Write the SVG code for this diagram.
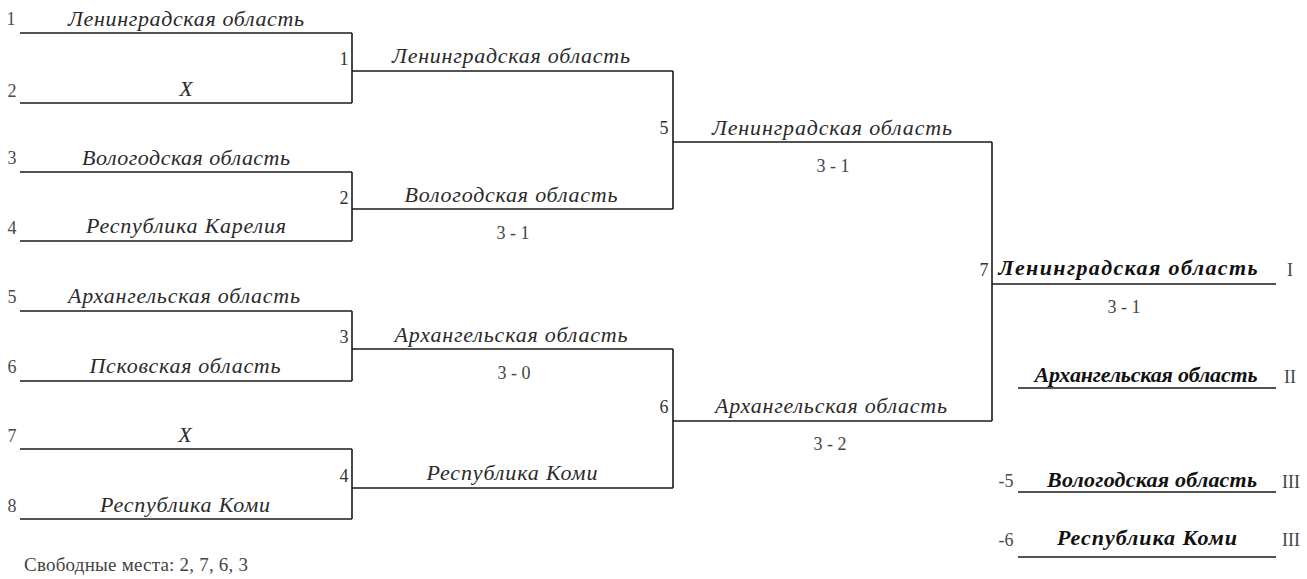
<svg xmlns="http://www.w3.org/2000/svg" width="1307" height="579" viewBox="0 0 1307 579">
<style>
.ln{stroke:#1a1a1a;stroke-width:1.6;fill:none}
.nm{font-family:"Liberation Serif",serif;font-style:italic;font-size:22px;fill:#2a2a2a;text-anchor:middle}
.bd{font-family:"Liberation Serif",serif;font-style:italic;font-weight:bold;font-size:22px;fill:#111;text-anchor:middle}
.sd{font-family:"Liberation Serif",serif;font-size:18px;fill:#4a4a4a;text-anchor:middle}
.mn{font-family:"Liberation Serif",serif;font-size:18px;fill:#333;text-anchor:middle}
.sc{font-family:"Liberation Serif",serif;font-size:18px;fill:#444;text-anchor:middle}
.ft{font-family:"Liberation Serif",serif;font-size:19px;fill:#444}
</style>
<rect width="1307" height="579" fill="#fff"/>
<g id="slot1"><line class="ln" x1="20" y1="33" x2="352" y2="33"/><text class="sd" x="11" y="25">1</text><text class="nm" x="186" y="26" textLength="236">Ленинградская область</text></g>
<g id="slot2"><line class="ln" x1="20" y1="103" x2="352" y2="103"/><text class="sd" x="12" y="97">2</text><text class="nm" x="186" y="96">X</text></g>
<g id="slot3"><line class="ln" x1="20" y1="172" x2="352" y2="172"/><text class="sd" x="12" y="164">3</text><text class="nm" x="186" y="165" textLength="208">Вологодская область</text></g>
<g id="slot4"><line class="ln" x1="20" y1="241" x2="352" y2="241"/><text class="sd" x="12" y="234">4</text><text class="nm" x="186" y="233" textLength="200">Республика Карелия</text></g>
<g id="slot5"><line class="ln" x1="20" y1="311" x2="352" y2="311"/><text class="sd" x="12" y="303">5</text><text class="nm" x="184" y="303" textLength="232">Архангельская область</text></g>
<g id="slot6"><line class="ln" x1="20" y1="381" x2="352" y2="381"/><text class="sd" x="12" y="373">6</text><text class="nm" x="185" y="373" textLength="191">Псковская область</text></g>
<g id="slot7"><line class="ln" x1="20" y1="449" x2="352" y2="449"/><text class="sd" x="12" y="442">7</text><text class="nm" x="185" y="442">X</text></g>
<g id="slot8"><line class="ln" x1="20" y1="519" x2="352" y2="519"/><text class="sd" x="12" y="512">8</text><text class="nm" x="185" y="512" textLength="170">Республика Коми</text></g>

<g id="match1"><line class="ln" x1="352" y1="71" x2="673" y2="71"/><text class="mn" x="344" y="65">1</text><text class="nm" x="511" y="63" textLength="238">Ленинградская область</text></g>
<g id="match2"><line class="ln" x1="352" y1="209" x2="673" y2="209"/><text class="mn" x="344" y="204">2</text><text class="nm" x="511" y="202" textLength="213">Вологодская область</text><text class="sc" x="513" y="239">3 - 1</text></g>
<g id="match3"><line class="ln" x1="352" y1="349" x2="673" y2="349"/><text class="mn" x="344" y="343">3</text><text class="nm" x="511" y="342" textLength="233">Архангельская область</text><text class="sc" x="514" y="379">3 - 0</text></g>
<g id="match4"><line class="ln" x1="352" y1="488" x2="673" y2="488"/><text class="mn" x="344" y="482">4</text><text class="nm" x="512" y="480" textLength="171">Республика Коми</text></g>

<g id="match5"><line class="ln" x1="673" y1="142" x2="992" y2="142"/><text class="mn" x="664" y="134">5</text><text class="nm" x="832" y="135" textLength="240">Ленинградская область</text><text class="sc" x="833" y="172">3 - 1</text></g>
<g id="match6"><line class="ln" x1="673" y1="421" x2="992" y2="421"/><text class="mn" x="664" y="413">6</text><text class="nm" x="831" y="413" textLength="232">Архангельская область</text><text class="sc" x="830" y="450">3 - 2</text></g>

<g id="match7"><line class="ln" x1="992" y1="284" x2="1276" y2="284"/><text class="mn" x="984" y="276">7</text><text class="bd" x="1128" y="275" textLength="259">Ленинградская область</text><text class="sc" x="1290" y="276">I</text><text class="sc" x="1124" y="313">3 - 1</text></g>
<g id="place2"><line class="ln" x1="1018" y1="388" x2="1276" y2="388"/><text class="bd" x="1146" y="382" textLength="223">Архангельская область</text><text class="sc" x="1290" y="383">II</text></g>
<g id="place3a"><line class="ln" x1="1018" y1="492" x2="1276" y2="492"/><text class="sd" x="1006" y="487">-5</text><text class="bd" x="1152" y="487" textLength="210">Вологодская область</text><text class="sc" x="1291" y="488">III</text></g>
<g id="place3b"><line class="ln" x1="1018" y1="557" x2="1276" y2="557"/><text class="sd" x="1006" y="546">-6</text><text class="bd" x="1147" y="545" textLength="180">Республика Коми</text><text class="sc" x="1291" y="546">III</text></g>

<g id="connectors">
<line class="ln" x1="352" y1="33" x2="352" y2="103"/>
<line class="ln" x1="352" y1="172" x2="352" y2="241"/>
<line class="ln" x1="352" y1="311" x2="352" y2="381"/>
<line class="ln" x1="352" y1="449" x2="352" y2="519"/>
<line class="ln" x1="673" y1="71" x2="673" y2="209"/>
<line class="ln" x1="673" y1="349" x2="673" y2="488"/>
<line class="ln" x1="992" y1="142" x2="992" y2="421"/>
</g>
<text class="ft" x="24" y="571" textLength="224">Свободные места: 2, 7, 6, 3</text>
</svg>
